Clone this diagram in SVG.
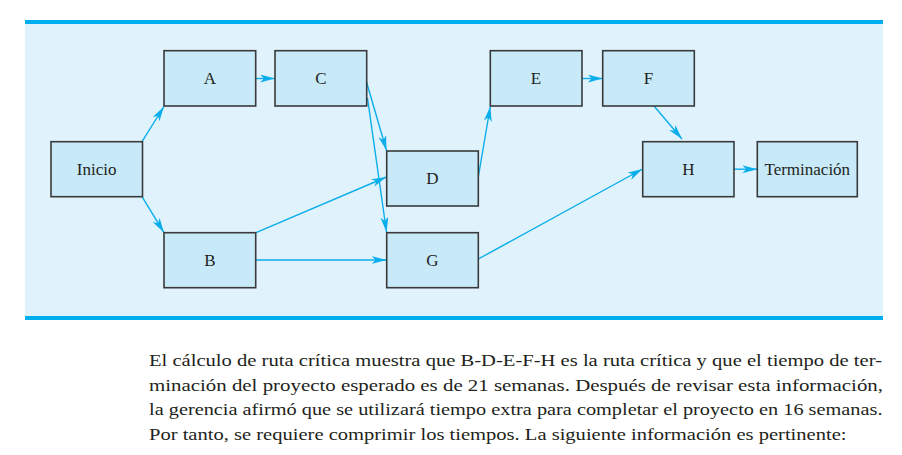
<svg xmlns="http://www.w3.org/2000/svg" width="902" height="455" viewBox="0 0 902 455">
<style>
.node rect{fill:#C7E9F8;stroke:#3A3A3A;stroke-width:1.6}
.node text{font-family:"Liberation Serif","Times New Roman",serif;font-size:17px;fill:#231F20;text-anchor:middle}
.edges line{stroke:#0AAEEB;stroke-width:1.4;marker-end:url(#ah)}
.para{font-family:"Liberation Serif","Times New Roman",serif;font-size:17.5px;fill:#231F20}
</style>
<defs>
<marker id="ah" markerUnits="userSpaceOnUse" markerWidth="16" markerHeight="9" refX="15" refY="4" orient="auto">
<path d="M0,0 L15,4 L0,8 L4,4 Z" fill="#0AAEEB"/>
</marker>
</defs>
<rect width="902" height="455" fill="#FFFFFF"/>
<rect x="25" y="22" width="858" height="296" fill="#E0F2FC"/>
<rect x="25" y="20" width="858" height="4" fill="#00AEEF"/>
<rect x="25" y="316" width="858" height="4" fill="#00AEEF"/>
<g class="edges">
<line x1="142" y1="141.7" x2="164" y2="106.5"/>
<line x1="142" y1="196.7" x2="164" y2="232.7"/>
<line x1="256" y1="78.5" x2="275" y2="78.5"/>
<line x1="366.5" y1="82" x2="386.5" y2="150.5"/>
<line x1="367.5" y1="98" x2="386.5" y2="232"/>
<line x1="256" y1="232.7" x2="386.5" y2="177"/>
<line x1="256" y1="260" x2="386.5" y2="260"/>
<line x1="478.3" y1="177" x2="490.3" y2="106.5"/>
<line x1="582" y1="78.5" x2="602.7" y2="78.5"/>
<line x1="654" y1="106" x2="682" y2="139"/>
<line x1="478.3" y1="259" x2="642.5" y2="169"/>
<line x1="734" y1="169.2" x2="757.3" y2="169.2"/>
</g>
<g id="node-inicio" class="node"><rect x="51" y="141.7" width="91.5" height="55"/><text x="96.7" y="174.5">Inicio</text></g>
<g id="node-A" class="node"><rect x="164" y="50.7" width="91.7" height="55.3"/><text x="210" y="84">A</text></g>
<g id="node-C" class="node"><rect x="275" y="50.7" width="91.7" height="55.3"/><text x="321" y="84">C</text></g>
<g id="node-B" class="node"><rect x="164" y="232.7" width="91.7" height="55"/><text x="210" y="265.5">B</text></g>
<g id="node-D" class="node"><rect x="386.7" y="151" width="91.6" height="55"/><text x="432.5" y="184">D</text></g>
<g id="node-G" class="node"><rect x="386.7" y="232.7" width="91.6" height="55"/><text x="432.5" y="265.5">G</text></g>
<g id="node-E" class="node"><rect x="490.3" y="50.7" width="91.7" height="55.3"/><text x="536" y="84">E</text></g>
<g id="node-F" class="node"><rect x="602.7" y="50.7" width="91.6" height="55.3"/><text x="648.5" y="84">F</text></g>
<g id="node-H" class="node"><rect x="642.7" y="141.7" width="91.3" height="55"/><text x="688.3" y="174.5">H</text></g>
<g id="node-terminacion" class="node"><rect x="757.3" y="141.7" width="100" height="55"/><text x="807.3" y="174.5">Terminación</text></g>
<text class="para" x="149" y="366" textLength="733" lengthAdjust="spacingAndGlyphs">El cálculo de ruta crítica muestra que B-D-E-F-H es la ruta crítica y que el tiempo de ter-</text>
<text class="para" x="149" y="390.5" textLength="734" lengthAdjust="spacingAndGlyphs">minación del proyecto esperado es de 21 semanas. Después de revisar esta información,</text>
<text class="para" x="149" y="415" textLength="733.5" lengthAdjust="spacingAndGlyphs">la gerencia afirmó que se utilizará tiempo extra para completar el proyecto en 16 semanas.</text>
<text class="para" x="149" y="439.5" textLength="697.5" lengthAdjust="spacingAndGlyphs">Por tanto, se requiere comprimir los tiempos. La siguiente información es pertinente:</text>
</svg>
